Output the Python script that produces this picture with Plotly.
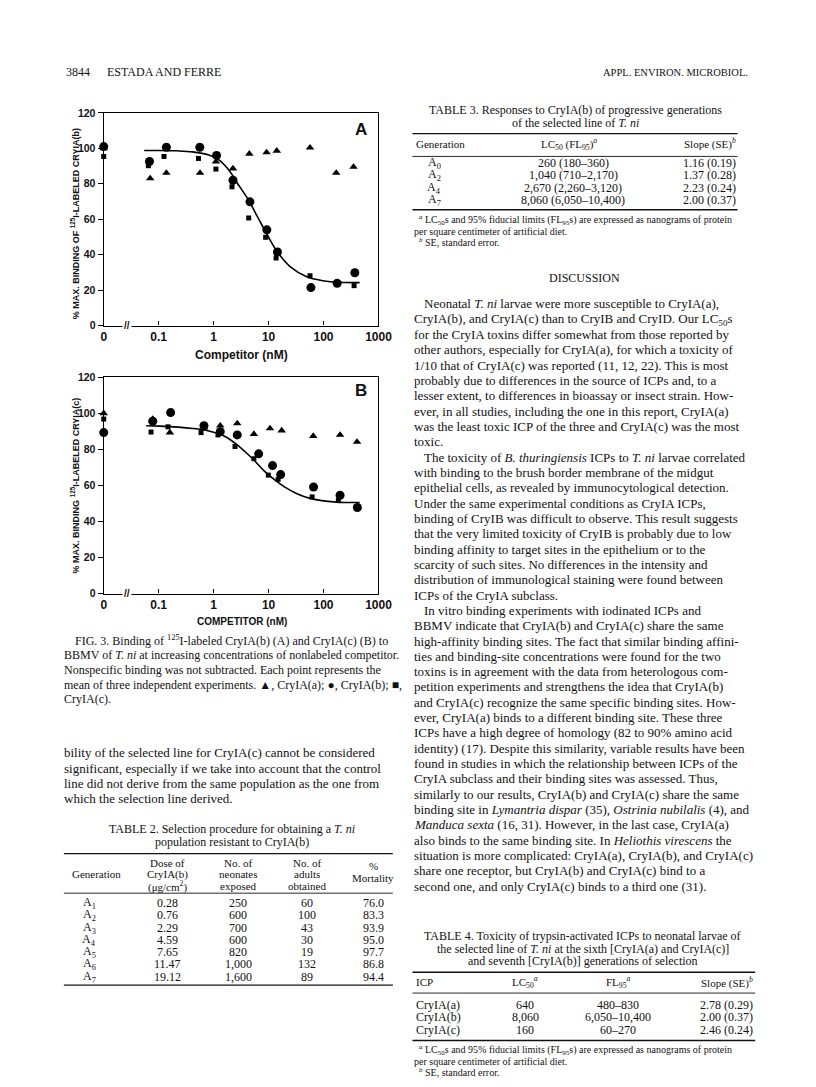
import plotly.graph_objects as go

# ---------------- data ----------------
tick_vals = [0.01, 0.1, 1, 10, 100, 1000]
tick_text = ["0", "0.1", "1", "10", "100", "1000"]
y_ticks = [0, 20, 40, 60, 80, 100, 120]

# Panel A : 125I-labeled CryIA(b)
a_tri_x = [0.01, 0.070, 0.138, 0.565, 1.10, 2.25, 4.46, 9.2, 14.1, 56.7, 170, 351]
a_tri_y = [100, 83, 86.1, 86.1, 92.5, 88.6, 96.9, 97.7, 98.6, 100.4, 86.1, 89.5]
a_cir_x = [0.01, 0.068, 0.138, 0.56, 1.13, 2.25, 4.58, 9.3, 14.5, 59, 177, 371]
a_cir_y = [101, 92.6, 100.6, 100.6, 96, 82, 69.8, 54, 41.5, 21.4, 23.8, 29.8]
a_sq_x = [0.01, 0.065, 0.125, 0.53, 1.10, 2.16, 4.35, 8.85, 13.7, 56.7, 175, 360]
a_sq_y = [95.4, 90.2, 95.4, 94.3, 88.3, 78.3, 60.7, 49.8, 38.1, 28.1, 23.2, 22.5]
a_fit_x = [0.0545, 0.105, 0.208, 0.412, 0.818, 1.23, 1.86, 2.80, 4.22, 6.37, 9.6, 14.5, 25, 49.5, 98.4, 195, 455]
a_fit_y = [98.8, 98.8, 98.6, 98.0, 96.2, 93.6, 88.0, 79.6, 71.3, 61.0, 50.8, 41.5, 33.1, 27.5, 25.3, 24.4, 24.2]

# Panel B : 125I-labeled CryIA(c)
b_tri_x = [0.01, 0.078, 0.16, 0.67, 1.32, 2.69, 5.4, 10.6, 17.3, 65, 200, 407]
b_tri_y = [100, 96.8, 89.3, 92, 93.1, 94.4, 88.5, 91.6, 90.4, 87.4, 88, 84.1]
b_cir_x = [0.01, 0.078, 0.165, 0.666, 1.32, 2.69, 6.6, 11.8, 16.6, 65.8, 200, 413]
b_cir_y = [89.3, 95.6, 100.4, 93.1, 89.8, 88, 77.5, 71, 66, 59.1, 54.5, 47.7]
b_sq_x = [0.01, 0.0726, 0.148, 0.59, 1.2, 2.45, 5.4, 9.9, 14.9, 62, 186]
b_sq_y = [96.8, 89.6, 92.5, 89.3, 88, 81.6, 74.8, 65.7, 63.3, 53.6, 51.7]
b_fit_x = [0.0592, 0.105, 0.412, 0.818, 1.62, 2.45, 3.69, 5.56, 8.38, 12.6, 19.1, 32.9, 56.8, 98.4, 195, 455]
b_fit_y = [93.1, 92.9, 91.6, 90.2, 87.1, 83.4, 78.8, 73.7, 67.9, 63.3, 59.3, 55.4, 52.8, 51.4, 50.6, 50.5]

# ---------------- page geometry helpers ----------------
W, H = 816, 1087
OFF_X = 8   # page offset of the figure (body margin)
OFF_Y = 11
SERIF = "Liberation Serif"
SANS = "Liberation Sans"
INK = "#111111"


def px(x):
    return (x - OFF_X) / W


def py(y):
    return 1 - (y - OFF_Y) / H


annotations = []
shapes = []


def txt(x, y, s, size=13, anchor="left", family=SERIF, weight="normal", angle=0, bg=None):
    d = dict(x=px(x), y=py(y), xref="paper", yref="paper", text=s, showarrow=False,
             xanchor=anchor, yanchor="middle", textangle=angle,
             font=dict(size=size, family=family, color=INK, weight=weight))
    if bg:
        d["bgcolor"] = bg
    annotations.append(d)


def rule(x0, x1, y, w=1.0):
    shapes.append(dict(type="line", xref="paper", yref="paper", x0=px(x0), x1=px(x1),
                       y0=py(y), y1=py(y), line=dict(color=INK, width=w)))


fig = go.Figure()


def add_panel(tx, ty, cx, cy, sx, sy, fx, fy, xa, ya):
    fig.add_trace(go.Scatter(x=fx, y=fy, mode="lines", line=dict(color="black", width=1.6, shape="spline"),
                             xaxis=xa, yaxis=ya, hoverinfo="skip"))
    fig.add_trace(go.Scatter(x=tx, y=ty, mode="markers", name="CryIA(a)",
                             marker=dict(symbol="triangle-up", size=7.5, color="black"),
                             xaxis=xa, yaxis=ya, cliponaxis=False))
    fig.add_trace(go.Scatter(x=cx, y=cy, mode="markers", name="CryIA(b)",
                             marker=dict(symbol="circle", size=9, color="black"),
                             xaxis=xa, yaxis=ya, cliponaxis=False))
    fig.add_trace(go.Scatter(x=sx, y=sy, mode="markers", name="CryIA(c)",
                             marker=dict(symbol="square", size=5, color="black"),
                             xaxis=xa, yaxis=ya, cliponaxis=False))


add_panel(a_tri_x, a_tri_y, a_cir_x, a_cir_y, a_sq_x, a_sq_y, a_fit_x, a_fit_y, "x", "y")
add_panel(b_tri_x, b_tri_y, b_cir_x, b_cir_y, b_sq_x, b_sq_y, b_fit_x, b_fit_y, "x2", "y2")

xdom = [px(102.7), px(383.3)]
xax = dict(type="log", range=[-2, 3], domain=xdom, tickvals=tick_vals, ticktext=tick_text,
           ticks="inside", ticklen=4, tickcolor="black", showline=True, linecolor="black",
           linewidth=1.3, mirror=True, showgrid=False, zeroline=False,
           tickfont=dict(size=12, family=SANS, color=INK, weight="bold"))
yax = dict(range=[0, 120], tickvals=y_ticks, ticks="outside", ticklen=5, tickcolor="black",
           showline=True, linecolor="black", linewidth=1.3, mirror=True, showgrid=False,
           zeroline=False, tickfont=dict(size=10.5, family=SANS, color=INK, weight="bold"))

layout_axes = dict(
    xaxis=dict(xax, anchor="y"),
    yaxis=dict(yax, domain=[py(326), py(111)], anchor="x"),
    xaxis2=dict(xax, anchor="y2"),
    yaxis2=dict(yax, domain=[py(597), py(378.3)], anchor="x2"),
)

# axis breaks
txt(126, 326, "//", size=10, anchor="center", family=SANS, weight="bold", bg="white")
txt(126, 597, "//", size=10, anchor="center", family=SANS, weight="bold", bg="white")

# chart labels
txt(365, 128, "A", size=17, anchor="center", family=SANS, weight="bold")
txt(365, 392, "B", size=17, anchor="center", family=SANS, weight="bold")
txt(243, 356, "Competitor (nM)", size=12, anchor="center", family=SANS, weight="bold")
txt(244, 625, "COMPETITOR (nM)", size=10, anchor="center", family=SANS, weight="bold")
txt(73, 223, "% MAX. BINDING OF <sup>125</sup>I-LABELED CRYIA(b)", size=9, anchor="center",
    family=SANS, weight="bold", angle=-90)
txt(73, 488, "% MAX. BINDING <sup>125</sup>I-LABELED CRYIA(c)", size=9, anchor="center",
    family=SANS, weight="bold", angle=-90)

# ---------------- running head ----------------
txt(62, 70, "3844", size=12)
txt(104, 70, "ESTADA AND FERRE", size=12)
txt(763, 70, "APPL. ENVIRON. MICROBIOL.", size=10.5, anchor="right")

# ---------------- caption ----------------
cap = [
    (71, "FIG. 3. Binding of <sup>125</sup>I-labeled CryIA(b) (A) and CryIA(c) (B) to"),
    (60, "BBMV of <i>T. ni</i> at increasing concentrations of nonlabeled competitor."),
    (60, "Nonspecific binding was not subtracted. Each point represents the"),
    (60, "mean of three independent experiments. ▲, CryIA(a); ●, CryIA(b); ■,"),
    (60, "CryIA(c)."),
]
for i, (x, s) in enumerate(cap):
    txt(x, 644 + i * 15, s, size=12)

left_body = [
    "bility of the selected line for CryIA(c) cannot be considered",
    "significant, especially if we take into account that the control",
    "line did not derive from the same population as the one from",
    "which the selection line derived.",
]
for i, s in enumerate(left_body):
    txt(60, 758 + i * 15.5, s, size=13)

# ---------------- Table 2 ----------------
txt(234, 835, "TABLE 2. Selection procedure for obtaining a <i>T. ni</i>", size=12, anchor="center")
txt(234, 848, "population resistant to CryIA(b)", size=12, anchor="center")
rule(62, 398, 860, 1.4)
rule(62, 398, 900, 0.9)
rule(62, 398, 993, 1.4)
txt(68, 881, "Generation", size=11)
for j, s in enumerate(["Dose of", "CryIA(b)", "(μg/cm<sup>2</sup>)"]):
    txt(168, 869 + j * 12, s, size=11, anchor="center")
for j, s in enumerate(["No. of", "neonates", "exposed"]):
    txt(240, 869 + j * 12, s, size=11, anchor="center")
for j, s in enumerate(["No. of", "adults", "obtained"]):
    txt(310, 869 + j * 12, s, size=11, anchor="center")
txt(378, 873, "%", size=11, anchor="center")
txt(378, 885, "Mortality", size=11, anchor="center")

t2_gen = ["A<sub>1</sub>", "A<sub>2</sub>", "A<sub>3</sub>", "A<sub>4</sub>", "A<sub>5</sub>", "A<sub>6</sub>", "A<sub>7</sub>"]
t2_dose = ["0.28", "0.76", "2.29", "4.59", "7.65", "11.47", "19.12"]
t2_neon = ["250", "600", "700", "600", "820", "1,000", "1,600"]
t2_adult = ["60", "100", "43", "30", "19", "132", "89"]
t2_mort = ["76.0", "83.3", "93.9", "95.0", "97.7", "86.8", "94.4"]
for i in range(7):
    yy = 910 + i * 12.4
    txt(88, yy, t2_gen[i], size=12, anchor="center")
    txt(168, yy, t2_dose[i], size=12, anchor="center")
    txt(240, yy, t2_neon[i], size=12, anchor="center")
    txt(310, yy, t2_adult[i], size=12, anchor="center")
    txt(378, yy, t2_mort[i], size=12, anchor="center")

# ---------------- Table 3 ----------------
txt(585, 108, "TABLE 3. Responses to CryIA(b) of progressive generations", size=12, anchor="center")
txt(585, 121, "of the selected line of <i>T. ni</i>", size=12, anchor="center")
rule(418, 750, 132, 1.4)
rule(418, 750, 155, 0.9)
rule(418, 750, 209, 1.4)
txt(420, 142, "Generation", size=11)
txt(578, 142, "LC<sub>50</sub> (FL<sub>95</sub>)<sup><i>a</i></sup>", size=11, anchor="center")
txt(750, 142, "Slope (SE)<sup><i>b</i></sup>", size=11, anchor="right")
t3_gen = ["A<sub>0</sub>", "A<sub>2</sub>", "A<sub>4</sub>", "A<sub>7</sub>"]
t3_lc = ["260 (180–360)", "1,040 (710–2,170)", "2,670 (2,260–3,120)", "8,060 (6,050–10,400)"]
t3_slope = ["1.16 (0.19)", "1.37 (0.28)", "2.23 (0.24)", "2.00 (0.37)"]
for i in range(4):
    yy = 161.7 + i * 12.4
    txt(440, yy, t3_gen[i], size=12, anchor="center")
    txt(582, yy, t3_lc[i], size=12, anchor="center")
    txt(750, yy, t3_slope[i], size=12, anchor="right")
txt(423, 219, "<sup><i>a</i></sup> LC<sub>50</sub>s and 95% fiducial limits (FL<sub>95</sub>s) are expressed as nanograms of protein", size=10)
txt(418, 231, "per square centimeter of artificial diet.", size=10)
txt(423, 242, "<sup><i>b</i></sup> SE, standard error.", size=10)

# ---------------- Discussion ----------------
txt(594, 278, "DISCUSSION", size=12, anchor="center")
right_body = [
    (428, "Neonatal <i>T. ni</i> larvae were more susceptible to CryIA(a),"),
    (418, "CryIA(b), and CryIA(c) than to CryIB and CryID. Our LC<sub>50</sub>s"),
    (418, "for the CryIA toxins differ somewhat from those reported by"),
    (418, "other authors, especially for CryIA(a), for which a toxicity of"),
    (418, "1/10 that of CryIA(c) was reported (11, 12, 22). This is most"),
    (418, "probably due to differences in the source of ICPs and, to a"),
    (418, "lesser extent, to differences in bioassay or insect strain. How-"),
    (418, "ever, in all studies, including the one in this report, CryIA(a)"),
    (418, "was the least toxic ICP of the three and CryIA(c) was the most"),
    (418, "toxic."),
    (428, "The toxicity of <i>B. thuringiensis</i> ICPs to <i>T. ni</i> larvae correlated"),
    (418, "with binding to the brush border membrane of the midgut"),
    (418, "epithelial cells, as revealed by immunocytological detection."),
    (418, "Under the same experimental conditions as CryIA ICPs,"),
    (418, "binding of CryIB was difficult to observe. This result suggests"),
    (418, "that the very limited toxicity of CryIB is probably due to low"),
    (418, "binding affinity to target sites in the epithelium or to the"),
    (418, "scarcity of such sites. No differences in the intensity and"),
    (418, "distribution of immunological staining were found between"),
    (418, "ICPs of the CryIA subclass."),
    (428, "In vitro binding experiments with iodinated ICPs and"),
    (418, "BBMV indicate that CryIA(b) and CryIA(c) share the same"),
    (418, "high-affinity binding sites. The fact that similar binding affini-"),
    (418, "ties and binding-site concentrations were found for the two"),
    (418, "toxins is in agreement with the data from heterologous com-"),
    (418, "petition experiments and strengthens the idea that CryIA(b)"),
    (418, "and CryIA(c) recognize the same specific binding sites. How-"),
    (418, "ever, CryIA(a) binds to a different binding site. These three"),
    (418, "ICPs have a high degree of homology (82 to 90% amino acid"),
    (418, "identity) (17). Despite this similarity, variable results have been"),
    (418, "found in studies in which the relationship between ICPs of the"),
    (418, "CryIA subclass and their binding sites was assessed. Thus,"),
    (418, "similarly to our results, CryIA(b) and CryIA(c) share the same"),
    (418, "binding site in <i>Lymantria dispar</i> (35), <i>Ostrinia nubilalis</i> (4), and"),
    (418, "<i>Manduca sexta</i> (16, 31). However, in the last case, CryIA(a)"),
    (418, "also binds to the same binding site. In <i>Heliothis virescens</i> the"),
    (418, "situation is more complicated: CryIA(a), CryIA(b), and CryIA(c)"),
    (418, "share one receptor, but CryIA(b) and CryIA(c) bind to a"),
    (418, "second one, and only CryIA(c) binds to a third one (31)."),
]
for i, (x, s) in enumerate(right_body):
    txt(x, 304 + i * 15.5, s, size=13)

# ---------------- Table 4 ----------------
txt(592, 943, "TABLE 4. Toxicity of trypsin-activated ICPs to neonatal larvae of", size=12, anchor="center")
txt(592, 956, "the selected line of <i>T. ni</i> at the sixth [CryIA(a) and CryIA(c)]", size=12, anchor="center")
txt(592, 969, "and seventh [CryIA(b)] generations of selection", size=12, anchor="center")
rule(418, 768, 980, 1.4)
rule(418, 768, 1001, 0.9)
rule(418, 768, 1049, 1.4)
txt(420, 990, "ICP", size=11)
txt(533, 990, "LC<sub>50</sub><sup><i>a</i></sup>", size=11, anchor="center")
txt(628, 990, "FL<sub>95</sub><sup><i>a</i></sup>", size=11, anchor="center")
txt(768, 990, "Slope (SE)<sup><i>b</i></sup>", size=11, anchor="right")
t4_icp = ["CryIA(a)", "CryIA(b)", "CryIA(c)"]
t4_lc = ["640", "8,060", "160"]
t4_fl = ["480–830", "6,050–10,400", "60–270"]
t4_slope = ["2.78 (0.29)", "2.00 (0.37)", "2.46 (0.24)"]
for i in range(3):
    yy = 1013 + i * 12.5
    txt(420, yy, t4_icp[i], size=12)
    txt(533, yy, t4_lc[i], size=12, anchor="center")
    txt(628, yy, t4_fl[i], size=12, anchor="center")
    txt(768, yy, t4_slope[i], size=12, anchor="right")
txt(423, 1059, "<sup><i>a</i></sup> LC<sub>50</sub>s and 95% fiducial limits (FL<sub>95</sub>s) are expressed as nanograms of protein", size=10)
txt(418, 1070, "per square centimeter of artificial diet.", size=10)
txt(423, 1081, "<sup><i>b</i></sup> SE, standard error.", size=10)

fig.update_layout(
    width=W, height=H, margin=dict(l=0, r=0, t=0, b=0),
    paper_bgcolor="white", plot_bgcolor="white", showlegend=False,
    annotations=annotations, shapes=shapes, **layout_axes,
)

fig.write_html("out.html")
